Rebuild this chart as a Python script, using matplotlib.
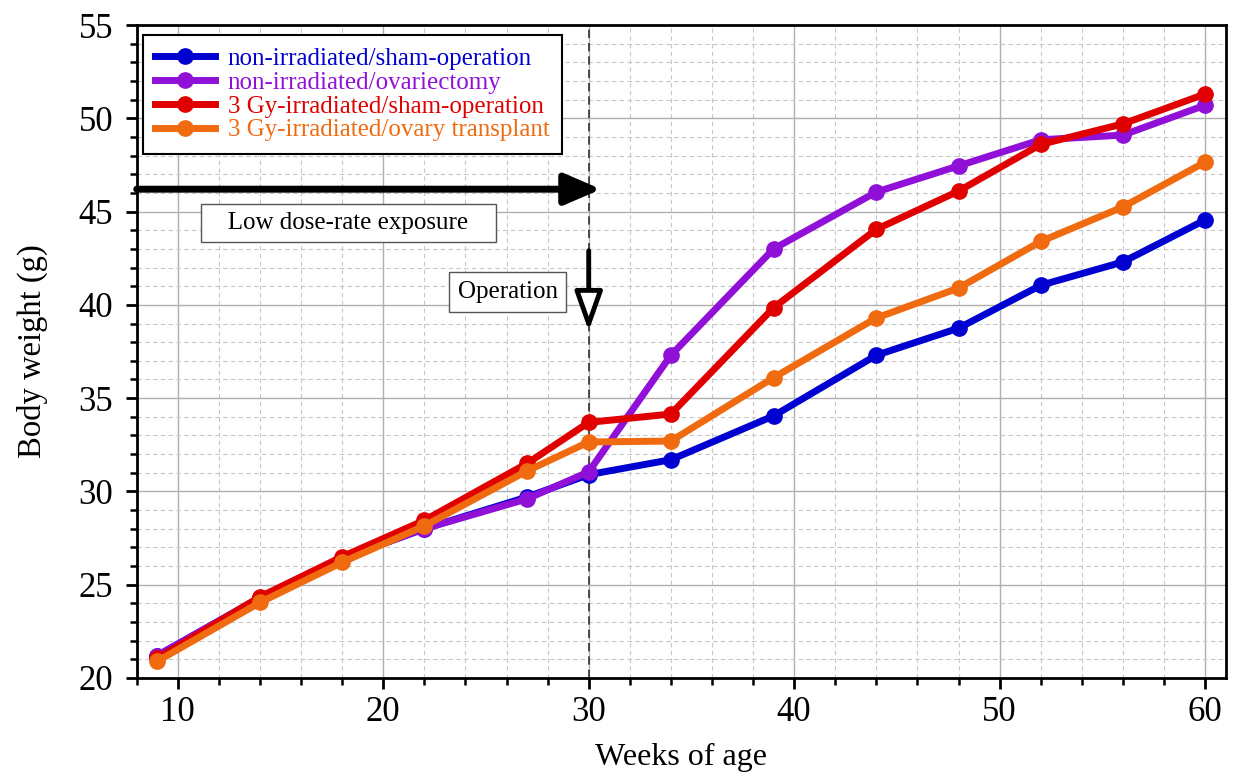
import numpy as np
from matplotlib import pyplot as plt
from matplotlib.ticker import MultipleLocator

plt.rcParams['font.family'] = ['Liberation Serif', 'DejaVu Serif']

weeks = [9, 14, 18, 22, 27, 30, 34, 39, 44, 48, 52, 56, 60]
sham_ctrl = [21.2, 24.3, 26.4, 28.0, 29.7, 30.9, 31.7, 34.05, 37.3, 38.75, 41.05, 42.3, 44.55]
ovx_ctrl = [21.2, 24.3, 26.4, 28.0, 29.6, 31.05, 37.3, 43.0, 46.05, 47.45, 48.85, 49.1, 50.7]
sham_irr = [21.05, 24.35, 26.5, 28.45, 31.5, 33.7, 34.15, 39.85, 44.05, 46.1, 48.6, 49.7, 51.3]
transplant_irr = [20.9, 24.05, 26.2, 28.15, 31.1, 32.65, 32.7, 36.1, 39.3, 40.9, 43.4, 45.25, 47.65]

labels = ['non-irradiated/sham-operation', 'non-irradiated/ovariectomy',
          '3 Gy-irradiated/sham-operation', '3 Gy-irradiated/ovary transplant']
colors = ['#0000d0', '#9010d8', '#e00000', '#f06a10']

fig = plt.figure(figsize=(12.35, 7.82), dpi=100)
ax = fig.add_axes([0.1107, 0.133, 0.8817, 0.835])

for y, lab, c in zip([sham_ctrl, ovx_ctrl, sham_irr, transplant_irr], labels, colors):
    ax.plot(weeks, y, '-o', color=c, lw=5, ms=11, label=lab, zorder=3)

ax.set_xlim(8, 61)
ax.set_ylim(20, 55)
ax.xaxis.set_major_locator(MultipleLocator(10))
ax.xaxis.set_minor_locator(MultipleLocator(2))
ax.yaxis.set_major_locator(MultipleLocator(5))
ax.yaxis.set_minor_locator(MultipleLocator(1))
ax.grid(True, which='major', color='#b0b0b0', lw=1.0, ls='-')
ax.grid(True, which='minor', color='#c8c8c8', lw=0.8, ls=(0, (4, 3)))
ax.set_axisbelow(True)
ax.tick_params(which='major', direction='out', length=8, width=2, labelsize=25, pad=5)
ax.tick_params(axis='y', which='major', pad=9)
ax.tick_params(which='minor', direction='out', length=5, width=1.8)
for s in ax.spines.values():
    s.set_linewidth(2)

ax.set_xlabel('Weeks of age', fontsize=23, labelpad=10)
ax.set_ylabel('Body weight (g)', fontsize=23.5, labelpad=22)

# operation time
ax.axvline(30, color='#333333', lw=1.2, ls=(0, (5, 3)), zorder=2)

# exposure period arrow
ax.annotate('', xy=(30.6, 46.2), xytext=(8, 46.2),
            arrowprops=dict(arrowstyle='-|>,head_length=2.2,head_width=0.95',
                            color='black', lw=5, shrinkA=0, shrinkB=0), zorder=4)
ax.text(18.3, 44.4, '   Low dose-rate exposure   ', fontsize=18, ha='center', va='center',
        bbox=dict(boxstyle='square,pad=0.33', fc='white', ec='#555555', lw=1), zorder=4)

# operation arrow
ax.annotate('', xy=(30, 38.6), xytext=(30, 42.9),
            arrowprops=dict(arrowstyle='-|>,head_length=2.4,head_width=0.85',
                            fc='white', ec='black', lw=3.5, shrinkA=0, shrinkB=0), zorder=4)
ax.text(26.05, 40.7, 'Operation', fontsize=18, ha='center', va='center',
        bbox=dict(boxstyle='square,pad=0.35', fc='white', ec='#555555', lw=1), zorder=4)

leg = ax.legend(loc='upper left', bbox_to_anchor=(-0.0015, 0.996), fontsize=18,
                frameon=True, fancybox=False, edgecolor='black', framealpha=1,
                handlelength=2.4, handletextpad=0.5, labelspacing=0.05,
                borderpad=0.5, borderaxespad=0.3)
leg.get_frame().set_linewidth(1.5)
for txt, c in zip(leg.get_texts(), colors):
    txt.set_color(c)

fig.savefig('out.png', dpi=100)
